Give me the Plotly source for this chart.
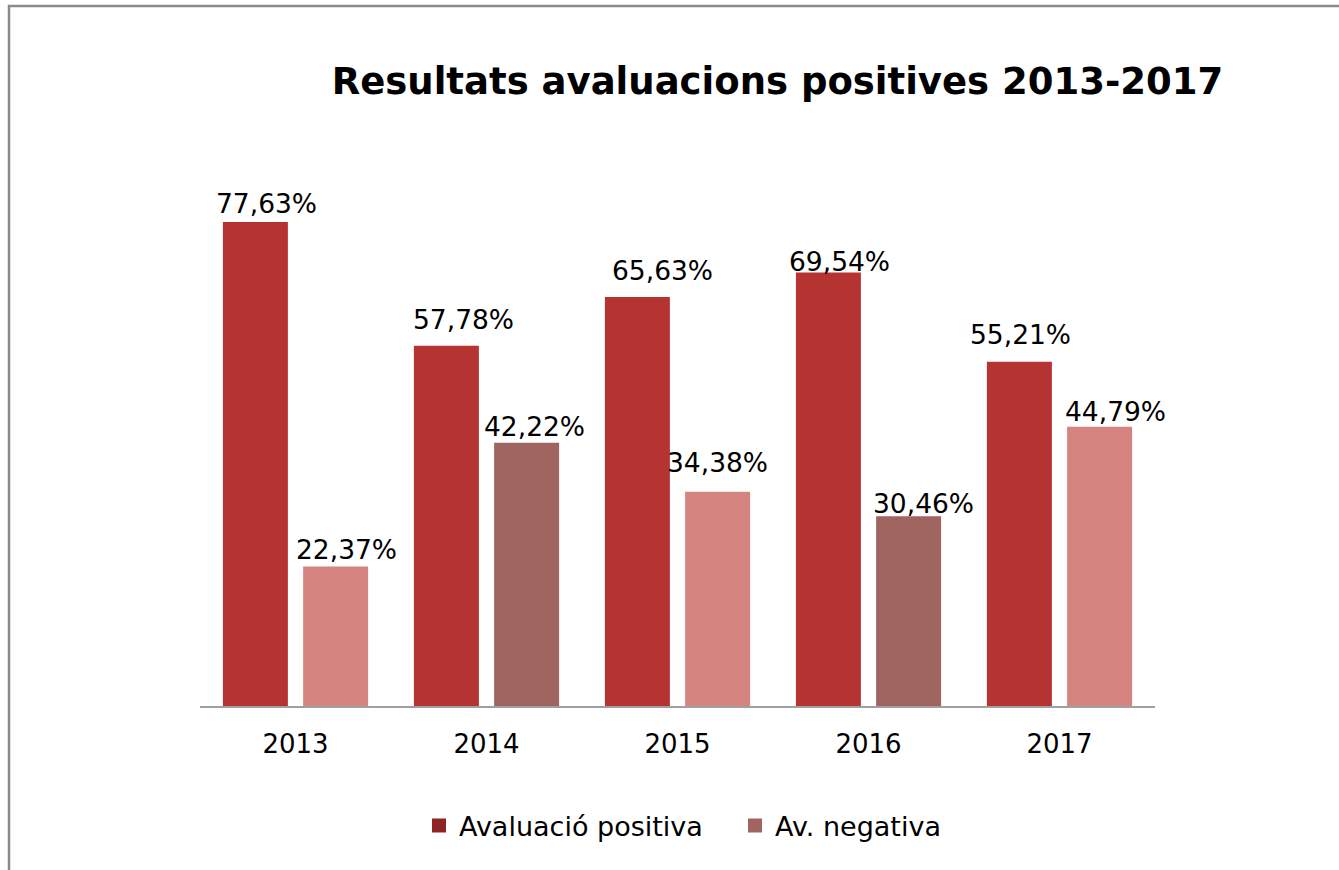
import plotly.graph_objects as go

# ---- data ----
years = ["2013", "2014", "2015", "2016", "2017"]
positiva = [77.63, 57.78, 65.63, 69.54, 55.21]
negativa = [22.37, 42.22, 34.38, 30.46, 44.79]
series_names = ["Avaluació positiva", "Av. negativa"]
title_text = "Resultats avaluacions positives 2013-2017"

# ---- style ----
pos_color = "#B53330"
neg_colors = ["#D6847F", "#A06461", "#D6847F", "#A06461", "#D6847F"]
legend_colors = ["#8C2524", "#A06461"]
font_fam = "DejaVu Sans, Verdana, sans-serif"

# per-label nudges in pixels (label placement as in the original)
pos_dx = [11, 17, 25, 11, 1]
neg_dx = [11, 8, 0, 15, 16]
pos_gap = [9, 17, 17, 2, 18]
neg_gap = [8, 7, 20, 3, 6]

W, H = 1339, 870
L, R, T, B = 200, 1339 - 1155, 145, 870 - 706
PW, PH = W - L - R, H - T - B

fig = go.Figure()
fig.add_trace(go.Bar(x=years, y=positiva, marker_color=pos_color,
                     marker_line_width=0, showlegend=False, hoverinfo="x+y"))
fig.add_trace(go.Bar(x=years, y=negativa, marker_color=neg_colors,
                     marker_line_width=0, showlegend=False, hoverinfo="x+y"))
for name, col in zip(series_names, legend_colors):
    fig.add_trace(go.Scatter(x=[years[0]], y=[-100], mode="markers", name=name,
                             marker=dict(symbol="square", size=14, color=col),
                             hoverinfo="skip"))

def fmt(v):
    return f"{v:.2f}".replace(".", ",") + "%"

annotations = []
for i, yr in enumerate(years):
    annotations.append(dict(x=i, y=positiva[i], xref="x", yref="y", text=fmt(positiva[i]),
                            showarrow=False, xanchor="center", yanchor="bottom",
                            xshift=-40 + pos_dx[i], yshift=pos_gap[i] - 8,
                            font=dict(family=font_fam, size=26.5, color="#000000")))
    annotations.append(dict(x=i, y=negativa[i], xref="x", yref="y", text=fmt(negativa[i]),
                            showarrow=False, xanchor="center", yanchor="bottom",
                            xshift=40 + neg_dx[i], yshift=neg_gap[i] - 8,
                            font=dict(family=font_fam, size=26.5, color="#000000")))

fig.update_layout(
    width=W, height=H,
    margin=dict(l=L, r=R, t=T, b=B, pad=0),
    paper_bgcolor="white", plot_bgcolor="white",
    barmode="group", bargap=0.16, bargroupgap=0.19,
    title=dict(text="<b>" + title_text + "</b>", x=777.5 / W, xanchor="center",
               y=1 - 81 / H, yanchor="middle",
               font=dict(family="DejaVu Sans, Verdana, sans-serif", size=37, color="#000000")),
    xaxis=dict(type="category", categoryorder="array", categoryarray=years,
               range=[-0.5, len(years) - 0.5],
               showline=True, linecolor="#A0A0A0", linewidth=2,
               ticks="", showgrid=False, zeroline=False, ticklabelstandoff=14,
               tickfont=dict(family=font_fam, size=26, color="#000000")),
    yaxis=dict(visible=False, range=[0, 90], showgrid=False, zeroline=False),
    legend=dict(orientation="h", x=(432 - 13 - L) / PW, xanchor="left",
                y=(706 - 826) / PH, yanchor="middle",
                entrywidth=271, entrywidthmode="pixels",
                font=dict(family=font_fam, size=27, color="#000000"),
                bgcolor="rgba(0,0,0,0)"),
    annotations=annotations,
    shapes=[dict(type="rect", xref="paper", yref="paper",
                 x0=(9 - L) / PW, x1=(1345 - L) / PW,
                 y0=(706 - 880) / PH, y1=(706 - 6) / PH,
                 line=dict(color="#8A8A8A", width=2.5), fillcolor="rgba(0,0,0,0)",
                 layer="below")],
    showlegend=True,
)

fig.write_html("out.html", post_script="document.body.style.margin='0';",
               config={"displayModeBar": False})
